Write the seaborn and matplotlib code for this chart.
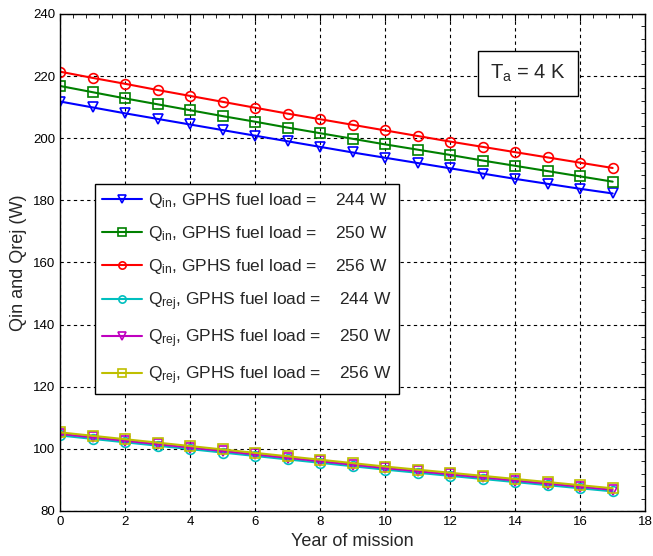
import numpy as np
import pandas as pd
import matplotlib
matplotlib.use("Agg")
import matplotlib.pyplot as plt
from matplotlib.ticker import MultipleLocator
import seaborn as sns

years = list(range(18))

# Q_in for the three fuel loads
qin_244 = [211.8, 209.9, 208.0, 206.2, 204.4, 202.6, 200.8, 199.0, 197.2,
           195.4, 193.7, 192.0, 190.3, 188.6, 186.9, 185.3, 183.7, 182.2]
qin_250 = [216.8, 214.8, 212.8, 210.9, 209.0, 207.1, 205.3, 203.4, 201.6,
           199.8, 198.0, 196.3, 194.6, 192.8, 191.1, 189.4, 187.7, 186.0]
qin_256 = [221.4, 219.4, 217.5, 215.5, 213.6, 211.7, 209.8, 207.9, 206.1,
           204.3, 202.5, 200.7, 198.9, 197.2, 195.5, 193.8, 192.1, 190.4]

# Q_rej for the three fuel loads
qrej_244 = [104.3, 103.2, 102.1, 101.0, 99.9, 98.8, 97.7, 96.6, 95.5,
            94.4, 93.3, 92.3, 91.3, 90.3, 89.3, 88.3, 87.3, 86.3]
qrej_250 = [104.8, 103.7, 102.6, 101.5, 100.4, 99.3, 98.2, 97.1, 96.0,
            94.9, 93.8, 92.8, 91.8, 90.8, 89.8, 88.8, 87.8, 86.8]
qrej_256 = [105.3, 104.2, 103.1, 102.0, 100.9, 99.8, 98.7, 97.6, 96.5,
            95.4, 94.3, 93.3, 92.3, 91.3, 90.3, 89.3, 88.3, 87.3]

labels = [
    "Q$_\\mathregular{in}$, GPHS fuel load =    244 W",
    "Q$_\\mathregular{in}$, GPHS fuel load =    250 W",
    "Q$_\\mathregular{in}$, GPHS fuel load =    256 W",
    "Q$_\\mathregular{rej}$, GPHS fuel load =    244 W",
    "Q$_\\mathregular{rej}$, GPHS fuel load =    250 W",
    "Q$_\\mathregular{rej}$, GPHS fuel load =    256 W",
]
series = [qin_244, qin_250, qin_256, qrej_244, qrej_250, qrej_256]
colors = ["#0000ff", "#008000", "#ff0000", "#00bfbf", "#bf00bf", "#bfbf00"]
markers = ["v", "s", "o", "o", "v", "s"]

sns.set_style("white")
plt.rcParams["font.family"] = ["Liberation Sans", "DejaVu Sans"]
plt.rcParams["mathtext.fontset"] = "custom"
plt.rcParams["mathtext.rm"] = "Liberation Sans"
plt.rcParams["mathtext.it"] = "Liberation Sans:italic"

fig = plt.figure(figsize=(6.53, 5.56), dpi=100)
ax = fig.add_axes([0.092, 0.081, 0.896, 0.894])

for vals, lab, c, m in zip(series, labels, colors, markers):
    df = pd.DataFrame({"year": years, "q": vals})
    sns.lineplot(data=df, x="year", y="q", ax=ax, color=c, marker=m,
                 markersize=7, markerfacecolor="none", markeredgecolor=c,
                 markeredgewidth=1.2, linewidth=1.5, label=lab)

ax.set_xlim(0, 18)
ax.set_ylim(80, 240)
ax.xaxis.set_major_locator(MultipleLocator(2))
ax.xaxis.set_minor_locator(MultipleLocator(0.4))
ax.yaxis.set_major_locator(MultipleLocator(20))
ax.yaxis.set_minor_locator(MultipleLocator(4))
ax.tick_params(which="both", direction="in", top=True, right=True,
               labelsize=9.5, colors="black")
ax.tick_params(which="major", length=5)
ax.tick_params(which="minor", length=3)
ax.grid(True, which="major", color="black", linestyle=(0, (3, 3)), linewidth=0.8)
for s in ax.spines.values():
    s.set_color("black")
    s.set_linewidth(1)

ax.set_xlabel("Year of mission", fontsize=13, labelpad=4)
ax.set_ylabel("Qin and Qrej (W)", fontsize=13, labelpad=4)

ax.text(14.4, 220.8, "T$_\\mathregular{a}$ = 4 K", fontsize=14.5, ha="center",
        va="center",
        bbox=dict(boxstyle="square,pad=0.6", facecolor="white",
                  edgecolor="black", linewidth=1))

leg = ax.legend(loc="upper left", bbox_to_anchor=(0.06, 0.658), fontsize=12.5,
                frameon=True, fancybox=False, edgecolor="black",
                handlelength=2.3, labelspacing=0.82, markerscale=0.75,
                borderpad=0.4, handletextpad=0.35, borderaxespad=0)
leg.get_frame().set_linewidth(1)
leg.get_frame().set_alpha(1)

fig.savefig("out.png", dpi=100)
